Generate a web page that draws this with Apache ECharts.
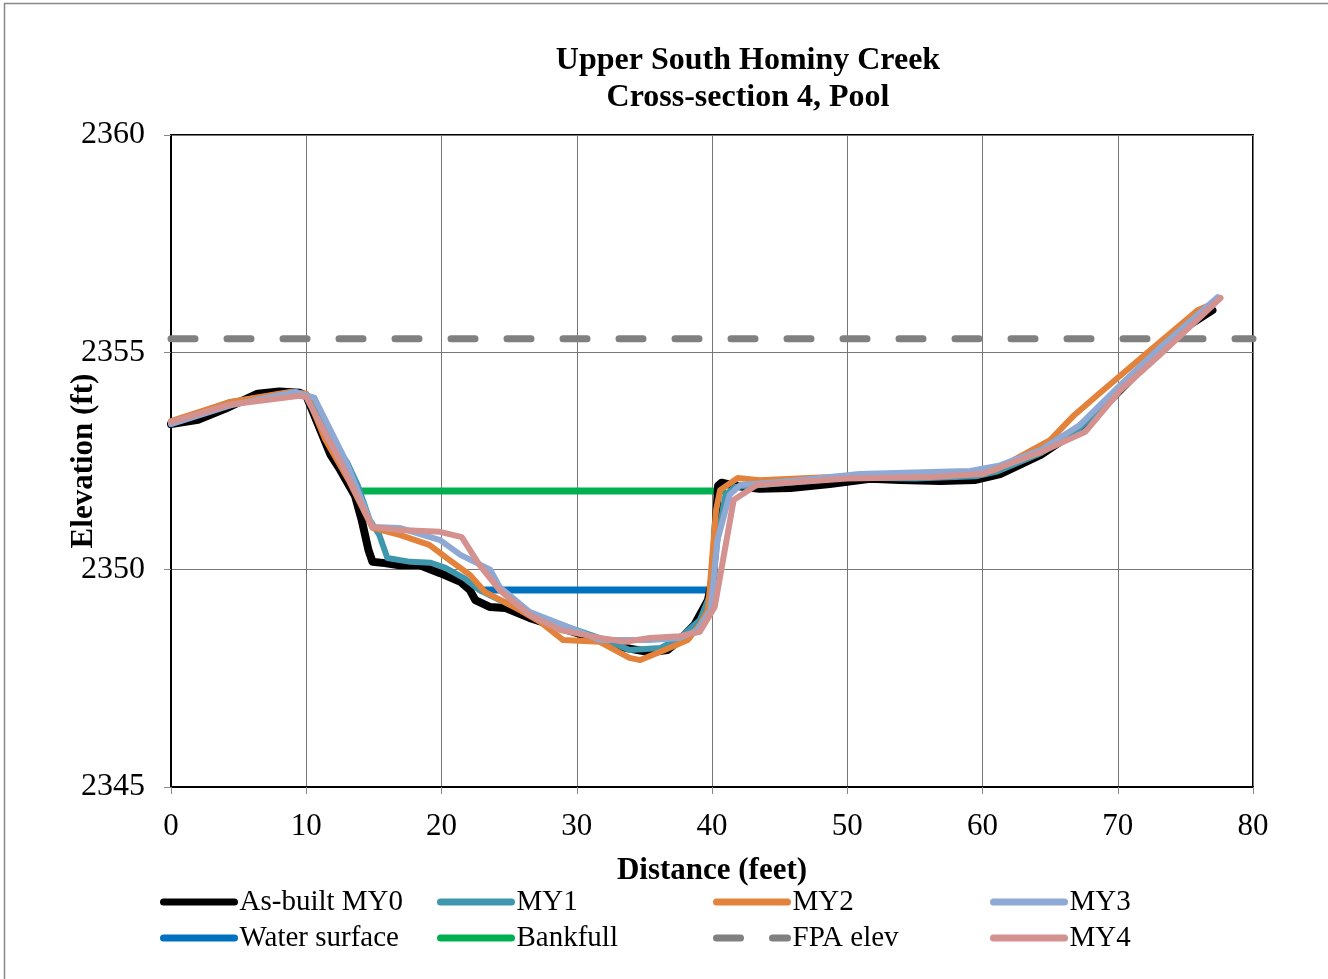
<!DOCTYPE html>
<html><head><meta charset="utf-8">
<script src="https://cdn.jsdelivr.net/npm/echarts@6/dist/echarts.min.js"></script>
<style>html,body{margin:0;padding:0;background:#fff}#c{width:1328px;height:979px}</style>
</head><body><div id="c"></div>
<script>
const titleLines = ['Upper South Hominy Creek', 'Cross-section 4, Pool'];
const xTicks = [0, 10, 20, 30, 40, 50, 60, 70, 80];
const yTicks = [2345, 2350, 2355, 2360];

const asBuiltMY0 = [[0,2353.35],[2,2353.45],[4,2353.7],[6.4,2354.05],[8,2354.1],[9.5,2354.07],[10,2354.0],[11.8,2352.64],[12.5,2352.3],[13.6,2351.7],[14.1,2351.14],[14.6,2350.45],[14.9,2350.18],[15.8,2350.15],[16.9,2350.1],[18.4,2350.1],[19.9,2349.92],[21.4,2349.72],[22.1,2349.53],[22.5,2349.3],[23.6,2349.14],[24.7,2349.12],[26.5,2348.89],[28.8,2348.66],[31.7,2348.38],[33.6,2348.2],[35.4,2348.1],[36.7,2348.15],[37.6,2348.38],[38.7,2348.73],[39.7,2349.3],[40.1,2349.88],[40.3,2351.14],[40.45,2351.93],[40.7,2352.0],[41.7,2351.93],[43.5,2351.86],[45.8,2351.88],[48.7,2351.97],[51.7,2352.09],[53.9,2352.06],[56.9,2352.04],[59.4,2352.06],[61.3,2352.2],[64.3,2352.64],[66.5,2353.1],[68.7,2353.67],[70.9,2354.36],[73.1,2355.05],[75.3,2355.63],[77,2355.97]];
const my1 = [[0,2353.37],[4.4,2353.86],[8.8,2354.07],[10.6,2353.95],[11.8,2352.98],[13,2352.48],[13.8,2351.95],[14.7,2351.14],[15.4,2350.8],[16,2350.27],[17.7,2350.18],[19.2,2350.16],[20.3,2350.04],[21.7,2349.8],[22.8,2349.53],[24.3,2349.3],[26.5,2349.0],[29.5,2348.66],[32.5,2348.34],[33.9,2348.15],[36.2,2348.2],[37.6,2348.43],[39.1,2348.84],[40,2349.53],[40.4,2350.68],[41,2351.72],[41.7,2351.9],[45,2351.98],[50,2352.12],[55,2352.1],[59.5,2352.15],[61,2352.25],[64.3,2352.68],[67,2353.2],[70,2354.1],[73,2355.0],[77,2356.1]];
const my2 = [[0,2353.42],[4.4,2353.86],[8.8,2354.09],[10,2354.05],[11.4,2353.0],[13.2,2352.02],[14.9,2350.96],[16.9,2350.8],[19.1,2350.57],[20.6,2350.22],[22.1,2349.88],[23.2,2349.49],[25.8,2349.07],[27.3,2348.8],[29,2348.38],[31.7,2348.34],[33.9,2347.97],[34.7,2347.92],[36.5,2348.15],[38.2,2348.38],[39.1,2348.73],[39.7,2349.07],[40,2350.22],[40.3,2351.37],[40.6,2351.83],[41.9,2352.11],[43.5,2352.06],[50,2352.15],[55,2352.2],[59.5,2352.2],[61,2352.3],[65,2352.98],[66.8,2353.56],[68.7,2354.07],[72.4,2355.05],[75.9,2355.97],[76.8,2356.09]];
const my3 = [[0,2353.35],[4.4,2353.78],[9.2,2354.09],[10.6,2353.95],[12.9,2352.52],[14.9,2350.98],[16.9,2350.96],[19.9,2350.68],[21.4,2350.34],[23.6,2350.0],[24.3,2349.6],[26.5,2349.03],[28.8,2348.75],[31.7,2348.38],[35.4,2348.38],[37.6,2348.43],[38.9,2348.6],[39.9,2349.07],[40.4,2350.68],[41.3,2351.72],[42.1,2351.95],[46.5,2352.06],[50.9,2352.2],[56.9,2352.25],[59.1,2352.27],[61.3,2352.4],[64.3,2352.75],[67.2,2353.33],[70.2,2354.25],[73.1,2355.1],[77.4,2356.27]];
const my4 = [[0,2353.4],[4.4,2353.8],[9.5,2354.0],[10,2353.97],[12.5,2352.5],[14.9,2350.98],[16.9,2350.91],[19.9,2350.87],[21.5,2350.75],[22.8,2350.11],[24.3,2349.53],[26.5,2348.96],[28.8,2348.61],[31.7,2348.43],[33.6,2348.34],[35.4,2348.43],[37.6,2348.47],[39.1,2348.57],[40.2,2349.14],[41.6,2351.6],[43.3,2351.95],[50,2352.1],[56.3,2352.13],[60,2352.2],[64.3,2352.7],[67.6,2353.17],[70.2,2354.13],[73.1,2354.94],[77.6,2356.25]];
const waterSurface = [[22.9,2349.53],[40,2349.53]];
const bankfull = [[13.8,2351.81],[40.8,2351.81]];
const fpaElev = [[0,2355.31],[80,2355.31]];

const FONT = '"Liberation Serif","Times New Roman",serif';
function line(name, data, color, width, extra) {
  return Object.assign({
    name, type: 'line', data, showSymbol: false, symbol: 'none', animation: false,
    lineStyle: { color, width, cap: 'round', join: 'round' }, itemStyle: { color }
  }, extra || {});
}
const legendCommon = {
  orient: 'vertical', top: 887, padding: 0, itemWidth: 71, itemHeight: 14, itemGap: 6,
  lineStyle: { width: 7, cap: 'round' },
  itemStyle: { color: 'rgba(0,0,0,0)', borderColor: 'rgba(0,0,0,0)', borderWidth: 0, opacity: 0 },
  textStyle: { fontFamily: FONT, fontSize: 29, color: '#000', lineHeight: 30 }
};
const chart = echarts.init(document.getElementById('c'));
chart.setOption({
  backgroundColor: '#fff',
  animation: false,
  title: {
    text: titleLines.join('\n'), left: 748, top: 42, textAlign: 'center', padding: 0,
    textStyle: { fontFamily: FONT, fontSize: 32, fontWeight: 'bold', color: '#000', lineHeight: 37 }
  },
  graphic: [{ type: 'rect', shape: { x: 4.5, y: 3.5, width: 1400, height: 1000 },
    style: { fill: 'none', stroke: '#888', lineWidth: 1.5 }, silent: true, z: -1 }],
  legend: [
    Object.assign({ left: 160, data: ['As-built MY0', 'Water surface'] }, legendCommon),
    Object.assign({ left: 437, data: ['MY1', 'Bankfull'] }, legendCommon),
    Object.assign({ left: 713, data: ['MY2', 'FPA elev'] }, legendCommon),
    Object.assign({ left: 990, data: ['MY3', 'MY4'] }, legendCommon)
  ],
  grid: { left: 171, right: 75, top: 135, bottom: 192, show: true, borderColor: '#000', borderWidth: 2, backgroundColor: 'transparent' },
  xAxis: {
    type: 'value', min: xTicks[0], max: xTicks[xTicks.length - 1], interval: 10,
    name: 'Distance (feet)', nameLocation: 'middle', nameGap: 68, nameMoveOverlap: false,
    nameTextStyle: { fontFamily: FONT, fontSize: 31, fontWeight: 'bold', color: '#000' },
    axisLine: { show: true, lineStyle: { color: '#000', width: 2 } },
    axisTick: { show: true, length: 7, lineStyle: { color: '#888' } },
    axisLabel: { fontFamily: FONT, fontSize: 31, color: '#000', margin: 24, formatter: v => String(v) },
    splitLine: { show: true, lineStyle: { color: '#777', width: 1 } }
  },
  yAxis: {
    type: 'value', min: yTicks[0], max: yTicks[yTicks.length - 1], interval: 5,
    name: 'Elevation (ft)', nameLocation: 'middle', nameGap: 72, nameRotate: 90, nameMoveOverlap: false,
    nameTextStyle: { fontFamily: FONT, fontSize: 31, fontWeight: 'bold', color: '#000' },
    axisLine: { show: true, lineStyle: { color: '#000', width: 2 } },
    axisTick: { show: true, length: 7, lineStyle: { color: '#888' } },
    axisLabel: { fontFamily: FONT, fontSize: 32, color: '#000', margin: 26, formatter: v => String(v) },
    splitLine: { show: true, lineStyle: { color: '#777', width: 1 } }
  },
  series: [
    line('Water surface', waterSurface, '#0070c0', 7),
    line('Bankfull', bankfull, '#00b050', 7),
    line('FPA elev', fpaElev, '#808080', 7, { lineStyle: { color: '#808080', width: 7, type: [24, 32], cap: 'round' } }),
    line('As-built MY0', asBuiltMY0, '#000000', 8),
    line('MY1', my1, '#3f97ae', 6),
    line('MY2', my2, '#e3823a', 6),
    line('MY3', my3, '#8eaad4', 6),
    line('MY4', my4, '#d3918f', 6)
  ]
});
</script>
</body></html>
